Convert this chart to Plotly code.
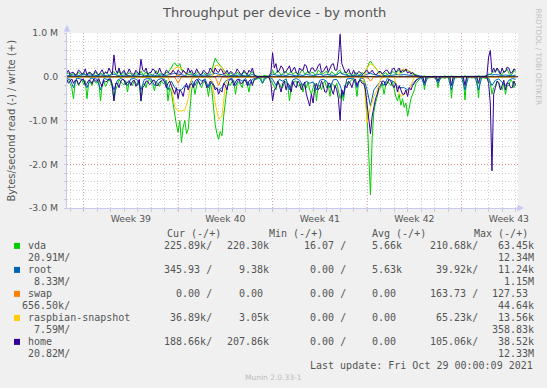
import plotly.graph_objects as go
import pandas as pd

# ---------------- data (values in kB/s) ----------------
# vda and home are sampled every 3 h, the other devices every 6 h
times_3h = pd.date_range("2021-09-25 18:00", periods=267, freq="3h")
times_6h = pd.date_range("2021-09-25 18:00", periods=134, freq="6h")

vda_read = [100, 60, 150, 250, 500, 120, 80, 200, 120, 60,
            180, 90, 500, 150, 120, 200, 80, 130, 150, 70,
            550, 180, 100, 220, 150, 60, 120, 250, 550, 300,
            200, 80, 100, 160, 180, 90, 350, 120, 130, 200,
            90, 150, 200, 80, 560, 200, 150, 250, 100, 60,
            120, 180, 320, 100, 180, 220, 90, 150, 150, 80,
            550, 250, 350, 600, 900, 1100, 1270, 1000, 1500, 1150,
            1000, 1300, 1200, 700, 300, 150, 400, 200, 100, 180,
            250, 120, 120, 200, 450, 150, 300, 700, 1100, 1300,
            1430, 1250, 1350, 900, 500, 250, 150, 200, 100, 80,
            400, 150, 120, 200, 250, 80, 90, 180, 350, 120,
            150, 80, 60, 40, 30, 20, 150, 30, 40, 20,
            30, 80, 150, 200, 300, 120, 150, 250, 250, 100,
            120, 200, 550, 250, 180, 100, 100, 220, 200, 150,
            350, 180, 250, 120, 300, 400, 250, 150, 550, 200,
            200, 300, 150, 100, 250, 180, 450, 150, 180, 250,
            150, 300, 500, 350, 550, 200, 120, 180, 100, 60,
            80, 150, 450, 120, 60, 100, 100, 300, 900, 1800,
            2700, 1400, 800, 600, 450, 300, 250, 150, 400, 200,
            100, 150, 200, 100, 300, 450, 550, 400, 650, 500,
            700, 600, 900, 650, 500, 400, 300, 150, 100, 60,
            40, 20, 300, 30, 30, 20, 20, 10, 30, 20,
            250, 30, 30, 20, 40, 20, 20, 10, 490, 30,
            30, 20, 20, 10, 30, 20, 530, 30, 20, 10,
            30, 20, 40, 20, 480, 30, 30, 20, 40, 30,
            80, 150, 400, 250, 200, 100, 120, 250, 300, 150,
            400, 200, 200, 80, 100, 250, 150]
vda_write = [50, 90, 30, 60, 80, 40, 40, 100, 60, 30,
             100, 50, 30, 80, 70, 40, 40, 110, 60, 30,
             80, 50, 40, 120, 60, 30, 50, 90, 120, 60,
             60, 140, 40, 70, 100, 40, 50, 90, 70, 30,
             40, 100, 60, 30, 130, 60, 50, 120, 40, 70,
             60, 30, 80, 140, 50, 60, 70, 30, 40, 100,
             90, 150, 200, 280, 320, 260, 250, 300, 150, 120,
             100, 60, 80, 120, 60, 40, 40, 90, 120, 50,
             50, 100, 60, 30, 40, 80, 150, 300, 430, 350,
             300, 250, 200, 150, 100, 60, 40, 90, 60, 30,
             30, 100, 80, 40, 50, 120, 60, 30, 40, 80,
             120, 40, 20, 10, 10, 10, 10, 30, 20, 10,
             10, 50, 150, 60, 80, 150, 100, 40, 60, 120,
             120, 50, 80, 130, 50, 90, 100, 40, 60, 140,
             150, 60, 80, 130, 60, 100, 100, 40, 50, 150,
             120, 60, 70, 110, 130, 50, 50, 120, 80, 40,
             60, 130, 150, 60, 80, 120, 40, 80, 60, 30,
             30, 90, 80, 40, 40, 100, 60, 120, 200, 300,
             360, 300, 250, 200, 150, 100, 100, 60, 60, 100,
             40, 80, 50, 120, 100, 60, 120, 150, 80, 110,
             130, 140, 150, 120, 100, 80, 60, 40, 30, 10,
             10, 5, 20, 5, 10, 5, 10, 5, 10, 5,
             10, 5, 10, 5, 20, 5, 10, 5, 20, 5,
             10, 5, 10, 5, 10, 5, 20, 5, 10, 5,
             10, 5, 10, 5, 20, 5, 10, 5, 20, 30,
             40, 60, 80, 120, 150, 180, 100, 60, 50, 120,
             120, 180, 80, 40, 60, 150, 100]
home_read = [60, 150, 100, 50, 150, 80, 80, 180, 120, 60,
             60, 200, 150, 80, 90, 160, 50, 100, 100, 40,
             150, 220, 80, 120, 100, 50, 60, 200, 550, 150,
             150, 250, 100, 60, 80, 180, 120, 90, 200, 100,
             80, 220, 150, 60, 550, 250, 200, 100, 100, 180,
             150, 80, 80, 200, 200, 120, 100, 60, 120, 250,
             150, 100, 200, 300, 400, 250, 500, 300, 350, 450,
             250, 150, 300, 200, 150, 250, 100, 60, 80, 180,
             150, 80, 100, 250, 200, 100, 150, 200, 300, 250,
             400, 300, 350, 150, 200, 300, 100, 50, 80, 200,
             120, 60, 60, 150, 150, 80, 80, 200, 100, 60,
             200, 80, 40, 10, 0, 0, 0, 0, 0, 0,
             20, 150, 550, 300, 250, 100, 200, 350, 150, 100,
             300, 150, 200, 350, 100, 200, 250, 100, 150, 300,
             200, 120, 400, 550, 670, 400, 600, 250, 150, 300,
             250, 100, 200, 350, 350, 150, 150, 300, 400, 200,
             300, 500, 1000, 300, 400, 200, 250, 100, 150, 250,
             100, 50, 200, 100, 80, 150, 150, 300, 600, 1000,
             1300, 900, 700, 500, 400, 250, 200, 100, 100, 200,
             150, 60, 100, 200, 250, 150, 350, 200, 300, 400,
             400, 300, 450, 250, 300, 200, 150, 80, 60, 20,
             0, 0, 150, 0, 0, 0, 0, 0, 0, 0,
             100, 0, 0, 0, 0, 0, 0, 0, 200, 0,
             0, 0, 0, 0, 0, 0, 200, 0, 0, 0,
             0, 0, 0, 0, 150, 0, 0, 0, 0, 10,
             150, 600, 2150, 400, 250, 100, 150, 300, 200, 80,
             300, 150, 150, 250, 250, 100, 200]
home_write = [80, 150, 50, 100, 100, 40, 60, 150, 120, 60,
              80, 180, 40, 100, 100, 50, 60, 150, 80, 40,
              100, 160, 60, 100, 80, 200, 120, 60, 500, 150,
              80, 200, 60, 100, 150, 50, 80, 180, 100, 60,
              60, 150, 100, 50, 400, 150, 120, 200, 60, 100,
              100, 180, 150, 60, 80, 200, 100, 50, 60, 150,
              120, 60, 80, 150, 100, 50, 150, 100, 60, 150,
              100, 60, 200, 100, 150, 60, 80, 180, 100, 50,
              60, 150, 120, 60, 80, 200, 150, 80, 200, 120,
              100, 180, 150, 60, 80, 150, 60, 120, 100, 50,
              80, 180, 120, 60, 60, 150, 100, 50, 150, 100,
              200, 60, 20, 0, 0, 0, 0, 0, 0, 0,
              20, 100, 550, 200, 300, 100, 150, 250, 200, 80,
              120, 200, 250, 100, 150, 220, 100, 60, 200, 150,
              150, 280, 250, 100, 100, 200, 200, 120, 150, 250,
              300, 100, 120, 200, 250, 100, 200, 280, 300, 150,
              150, 400, 970, 300, 200, 100, 100, 180, 80, 50,
              150, 60, 60, 120, 100, 50, 80, 120, 150, 80,
              100, 150, 80, 50, 60, 120, 120, 60, 100, 150,
              150, 80, 80, 180, 200, 100, 150, 200, 100, 150,
              120, 180, 80, 120, 60, 100, 40, 20, 20, 5,
              0, 0, 0, 0, 0, 0, 0, 0, 0, 0,
              0, 0, 0, 0, 0, 0, 0, 0, 0, 0,
              0, 0, 0, 0, 0, 0, 0, 0, 0, 0,
              0, 0, 0, 0, 0, 0, 0, 0, 10, 20,
              450, 600, 100, 200, 100, 200, 150, 60, 200, 100,
              120, 220, 200, 80, 100, 180, 150]
root_read = [40, 60, 250, 30, 50, 70, 250, 40, 30, 60,
             300, 40, 60, 50, 300, 80, 40, 70, 200, 50,
             40, 80, 300, 60, 40, 50, 200, 70, 40, 60,
             300, 100, 250, 300, 300, 200, 250, 80, 200, 40,
             100, 50, 250, 100, 250, 300, 250, 100, 60, 40,
             200, 50, 100, 40, 200, 60, 30, 10, 150, 20,
             10, 60, 200, 60, 100, 50, 300, 70, 40, 80,
             200, 100, 150, 120, 300, 80, 60, 100, 250, 70,
             60, 200, 450, 50, 40, 30, 250, 30, 40, 300,
             670, 300, 200, 100, 200, 40, 80, 120, 250, 250,
             250, 300, 200, 120, 40, 5, 200, 5, 5, 5,
             150, 5, 5, 5, 300, 5, 5, 5, 300, 5,
             5, 5, 300, 5, 5, 30, 200, 80, 50, 120,
             200, 80, 40, 60]
root_write = [20, 30, 40, 20, 30, 50, 30, 40, 20, 30,
              40, 30, 20, 40, 60, 30, 20, 40, 30, 20,
              30, 40, 50, 20, 30, 40, 30, 20, 40, 30,
              40, 60, 80, 60, 40, 30, 50, 40, 30, 40,
              30, 40, 30, 50, 80, 60, 50, 30, 20, 30,
              20, 40, 30, 20, 30, 50, 10, 5, 5, 5,
              10, 60, 40, 30, 40, 30, 50, 30, 20, 40,
              30, 50, 40, 30, 40, 60, 30, 50, 40, 30,
              40, 100, 50, 30, 20, 30, 20, 30, 20, 60,
              80, 50, 30, 20, 30, 20, 30, 40, 50, 40,
              50, 40, 30, 20, 10, 0, 5, 0, 0, 0,
              5, 0, 0, 0, 5, 0, 0, 0, 5, 0,
              0, 0, 5, 0, 5, 60, 40, 50, 40, 30,
              40, 30, 20, 40]
swap_read = [0, 0, 0, 0, 0, 0, 0, 0, 0, 0,
             0, 0, 0, 0, 0, 0, 0, 0, 0, 0,
             0, 0, 0, 0, 0, 0, 0, 0, 0, 0,
             0, 0, 0, 150, 0, 0, 0, 0, 0, 0,
             0, 0, 0, 0, 0, 200, 0, 0, 0, 0,
             0, 0, 0, 0, 0, 0, 0, 0, 0, 0,
             0, 0, 0, 0, 0, 0, 0, 0, 0, 0,
             0, 0, 0, 0, 0, 0, 0, 0, 0, 0,
             0, 0, 0, 0, 0, 0, 0, 0, 0, 0,
             100, 0, 0, 0, 0, 0, 0, 0, 0, 0,
             0, 0, 0, 0, 0, 0, 0, 0, 0, 0,
             0, 0, 0, 0, 0, 0, 0, 0, 0, 0,
             0, 0, 0, 0, 0, 0, 0, 0, 0, 0,
             0, 0, 0, 0]
swap_write = [0, 0, 0, 0, 0, 0, 0, 0, 0, 0,
              0, 0, 0, 0, 0, 0, 0, 0, 0, 0,
              0, 0, 0, 0, 0, 0, 0, 0, 0, 0,
              0, 0, 0, 40, 0, 0, 0, 0, 0, 0,
              0, 0, 0, 0, 0, 44, 0, 0, 0, 0,
              0, 0, 0, 0, 0, 0, 0, 0, 0, 0,
              0, 0, 0, 0, 0, 0, 0, 0, 0, 0,
              0, 0, 0, 0, 0, 0, 0, 0, 0, 0,
              0, 0, 0, 0, 0, 0, 0, 0, 0, 0,
              0, 0, 0, 0, 0, 0, 0, 0, 0, 0,
              0, 0, 0, 0, 0, 0, 0, 0, 0, 0,
              0, 0, 0, 0, 0, 0, 0, 0, 0, 0,
              0, 0, 0, 0, 0, 0, 0, 0, 0, 0,
              0, 0, 0, 0]
raspbian_read = [0, 0, 10, 0, 0, 0, 10, 0, 0, 0,
                 10, 0, 0, 0, 10, 0, 0, 0, 10, 0,
                 0, 0, 10, 0, 0, 0, 10, 0, 0, 0,
                 10, 200, 700, 780, 780, 760, 500, 50, 10, 0,
                 0, 0, 10, 100, 600, 970, 900, 200, 0, 0,
                 10, 0, 0, 0, 10, 0, 0, 0, 10, 0,
                 0, 0, 10, 0, 0, 0, 10, 0, 0, 0,
                 10, 0, 0, 0, 10, 0, 0, 0, 10, 0,
                 0, 0, 10, 0, 0, 0, 10, 0, 0, 1050,
                 700, 450, 300, 50, 10, 0, 0, 0, 300, 450,
                 400, 350, 200, 0, 0, 0, 10, 0, 0, 0,
                 10, 0, 0, 0, 10, 0, 0, 0, 10, 0,
                 0, 0, 10, 0, 0, 0, 10, 0, 0, 0,
                 10, 0, 0, 0]
raspbian_write = [0, 0, 0, 0, 0, 0, 0, 0, 0, 0,
                  0, 0, 0, 0, 0, 0, 0, 0, 0, 0,
                  0, 0, 0, 0, 0, 0, 0, 0, 0, 0,
                  0, 100, 200, 220, 200, 100, 30, 0, 0, 0,
                  0, 0, 0, 0, 250, 270, 200, 50, 0, 0,
                  0, 0, 0, 0, 0, 0, 0, 0, 0, 0,
                  0, 0, 0, 0, 0, 0, 0, 0, 0, 0,
                  0, 0, 0, 0, 0, 0, 0, 0, 0, 0,
                  0, 0, 0, 0, 0, 0, 0, 0, 0, 200,
                  300, 250, 150, 40, 0, 0, 0, 0, 0, 150,
                  170, 150, 100, 0, 0, 0, 0, 0, 0, 0,
                  0, 0, 0, 0, 0, 0, 0, 0, 0, 0,
                  0, 0, 0, 0, 0, 0, 0, 0, 0, 0,
                  0, 0, 0, 0]

device_names = ["vda", "root", "swap", "raspbian-snapshot", "home"]
device_colors = ["#00CC00", "#0066B3", "#FF8000", "#FFCC00", "#330099"]
device_times = [times_3h, times_6h, times_6h, times_6h, times_3h]
reads = [vda_read, root_read, swap_read, raspbian_read, home_read]
writes = [vda_write, root_write, swap_write, raspbian_write, home_write]

y_tick_vals = [-3e6, -2e6, -1e6, 0, 1e6]
y_tick_text = ["-3.0 M", "-2.0 M", "-1.0 M", "0.0", "1.0 M"]
week_mid = ["2021-09-30 12:00", "2021-10-07 12:00", "2021-10-14 12:00",
            "2021-10-21 12:00", "2021-10-28 12:00"]
week_labels = ["Week 39", "Week 40", "Week 41", "Week 42", "Week 43"]
week_starts = ["2021-09-27", "2021-10-04", "2021-10-11", "2021-10-18", "2021-10-25"]

# legend table (Cur -/+, Min -/+, Avg -/+, Max -/+)
cur_r = ["225.89k/", "345.93 /", "  0.00 /", " 36.89k/", "188.66k/"]
cur_w = ["220.30k", "  9.38k", "  0.00 ", "  3.05k", "207.86k"]
min_r = [" 16.07 /", "  0.00 /", "  0.00 /", "  0.00 /", "  0.00 /"]
min_w = ["  5.66k", "  5.63k", "  0.00 ", "  0.00 ", "  0.00 "]
avg_r = ["210.68k/", " 39.92k/", "163.73 /", " 65.23k/", "105.06k/"]
avg_w = [" 63.45k", " 11.24k", "127.53 ", " 13.56k", " 38.52k"]
max_r = [" 20.91M/", "  8.33M/", "656.50k/", "  7.59M/", " 20.82M/"]
max_w = [" 12.34M", "  1.15M", " 44.64k", "358.83k", " 12.33M"]

# ---------------- figure ----------------
K = 1000.0
W, H = 547, 388
L, R, T, B = 67, 29, 33, 180
PW = W - L - R
PH = H - T - B


def px(x):
    return (x - L) / PW


def py(y):
    return (H - B - y) / PH


fig = go.Figure()
for name, col, tt, rd, wr in zip(device_names, device_colors, device_times, reads, writes):
    fig.add_trace(go.Scatter(x=tt, y=[-v * K for v in rd], mode="lines",
                             line=dict(color=col, width=1), showlegend=False,
                             hoverinfo="skip", name=name + " read"))
    fig.add_trace(go.Scatter(x=tt, y=[v * K for v in wr], mode="lines",
                             line=dict(color=col, width=1), showlegend=False,
                             hoverinfo="skip", name=name + " write"))

TXT = "#555555"
MONO = "DejaVu Sans Mono"
SANS = "DejaVu Sans"
GRID_MINOR = "rgba(175,175,175,0.55)"
GRID_MAJOR = "rgba(235,90,90,0.55)"
AXIS = "#c8c8f4"

shapes = []
for ws in week_starts:
    shapes.append(dict(type="line", xref="x", yref="paper", x0=ws, x1=ws,
                       y0=-3.0 / PH, y1=1, layer="below",
                       line=dict(color=GRID_MAJOR, width=1, dash="1px,2px")))
# zero rule drawn above the data lines
shapes.append(dict(type="line", xref="paper", yref="y", x0=0, x1=1, y0=0, y1=0,
                   layer="above", line=dict(color="#10103a", width=1)))

annotations = []


def text(xp, yp, s, anchor="left", size=10, color=TXT, family=MONO, angle=0):
    annotations.append(dict(x=px(xp), y=py(yp), xref="paper", yref="paper",
                            text=s.replace(" ", "\u00a0"), showarrow=False,
                            xanchor=anchor, yanchor="middle", textangle=angle,
                            borderpad=0,
                            font=dict(family=family, size=size, color=color)))


# title, axis title, side text
text(273.5, 13, "Throughput per device - by month", anchor="center", size=13, family=SANS)
annotations.append(dict(x=px(10.5), y=py(121), xref="paper", yref="paper",
                        text="Bytes/second read (-) / write (+)", showarrow=False,
                        xanchor="center", yanchor="middle", textangle=-90,
                        font=dict(family=SANS, size=10, color=TXT)))
annotations.append(dict(x=px(538.5), y=py(57), xref="paper", yref="paper",
                        text="RRDTOOL / TOBI OETIKER", showarrow=False,
                        xanchor="center", yanchor="middle", textangle=90,
                        font=dict(family=SANS, size=7.5, color="#c0c0c0")))

# axis arrows
annotations.append(dict(x=px(67), y=py(25), xref="paper", yref="paper", ax=0, ay=9,
                        axref="pixel", ayref="pixel", text="", showarrow=True,
                        arrowhead=2, arrowsize=1.3, arrowwidth=1, arrowcolor=AXIS))
annotations.append(dict(x=px(524), y=py(208), xref="paper", yref="paper", ax=-9, ay=0,
                        axref="pixel", ayref="pixel", text="", showarrow=True,
                        arrowhead=2, arrowsize=1.3, arrowwidth=1, arrowcolor=AXIS))

# legend header
text(165.7, 233.7, "Cur (-/+)")
text(268.3, 233.7, "Min (-/+)")
text(371.0, 233.7, "Avg (-/+)")
text(473.3, 233.7, "Max (-/+)")

row0 = 245.7
step = 12.0
for k in range(len(device_names)):
    y1 = row0 + 2 * k * step
    y2 = y1 + step
    shapes.append(dict(type="rect", xref="paper", yref="paper",
                       x0=px(14), x1=px(20), y0=py(y1 + 3.2), y1=py(y1 - 2.8),
                       fillcolor=device_colors[k], line=dict(width=0)))
    text(26.7, y1, device_names[k])
    text(163.3, y1, cur_r[k])
    text(225.7, y1, cur_w[k])
    text(296.8, y1, min_r[k])
    text(359.2, y1, min_w[k])
    text(429.3, y1, avg_r[k])
    text(491.0, y1, avg_w[k])
    text(20.7, y2, max_r[k])
    text(491.0, y2, max_w[k])

text(533.5, 365.7, "Last update: Fri Oct 29 00:00:09 2021", anchor="right")
text(273.3, 377.3, "Munin 2.0.33-1", anchor="center", size=7.5, color="#bbbbbb", family=SANS)

fig.update_layout(
    width=W, height=H, autosize=False,
    margin=dict(l=L, r=R, t=T, b=B, pad=0, autoexpand=False),
    paper_bgcolor="#f0f0f0", plot_bgcolor="#ffffff",
    showlegend=False,
    shapes=shapes, annotations=annotations,
    xaxis=dict(type="date", range=["2021-09-25 18:30", "2021-10-29 04:15"],
               automargin=False,
               tickmode="array", tickvals=week_mid, ticktext=week_labels,
               showgrid=False, zeroline=False, ticks="",
               showline=True, linecolor=AXIS, linewidth=1,
               tickfont=dict(family=SANS, size=9.3, color=TXT),
               ticklabelstandoff=2,
               minor=dict(dtick=86400000, tick0="2021-09-27", showgrid=True,
                          gridcolor=GRID_MINOR, griddash="1px,2px", gridwidth=1,
                          ticks="outside", ticklen=3, tickcolor=GRID_MINOR)),
    yaxis=dict(range=[-3e6, 1e6], tickmode="array", tickvals=y_tick_vals,
               automargin=False,
               ticktext=y_tick_text, showgrid=True, gridcolor=GRID_MAJOR,
               griddash="1px,2px", gridwidth=1,
               zeroline=False,
               showline=True, linecolor=AXIS, linewidth=1, ticks="",
               tickfont=dict(family=SANS, size=9.3, color=TXT),
               ticklabelstandoff=6,
               minor=dict(dtick=200000, tick0=0, showgrid=True,
                          gridcolor=GRID_MINOR, griddash="1px,2px", gridwidth=1,
                          ticks="outside", ticklen=2, tickcolor=GRID_MINOR)),
)

fig.write_html(
    "out.html",
    config={"displayModeBar": False},
    post_script="document.body.style.margin='0';document.body.style.background='#f0f0f0';",
)
